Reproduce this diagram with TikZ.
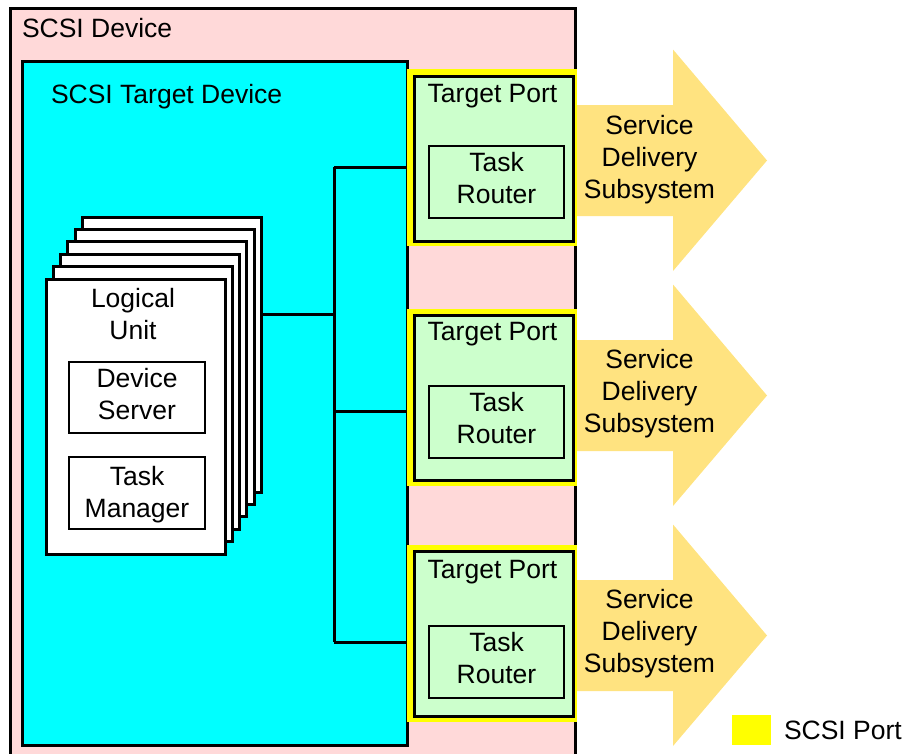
\documentclass[tikz,border=0pt]{standalone}
\usepackage{fontspec}
\setmainfont{Liberation Sans}
\definecolor{devpink}{RGB}{255,217,217}
\definecolor{tgtcyan}{RGB}{0,255,255}
\definecolor{portgreen}{RGB}{204,255,204}
\definecolor{portyellow}{RGB}{255,255,0}
\definecolor{arrowgold}{RGB}{255,227,128}
\begin{document}
\begin{tikzpicture}[x=1pt,y=-1pt,
  box/.style={draw=black, line width=3pt, rectangle, inner sep=0pt, outer sep=0pt},
  thinbox/.style={draw=black, line width=2pt, rectangle, inner sep=0pt, outer sep=0pt},
  txt/.style={font=\fontsize{26.5}{32}\selectfont, align=center, inner sep=0pt, outer sep=0pt},
  frame/.style={fill=portyellow, rectangle, inner sep=0pt, outer sep=0pt, minimum width=170pt, minimum height=177pt},
  portbox/.style={box, fill=portgreen, minimum width=159pt, minimum height=165pt},
  routerbox/.style={thinbox, minimum width=135pt, minimum height=72pt},
  page/.style={box, fill=white, minimum width=179pt, minimum height=275pt},
  bus/.style={draw=black, line width=3pt},
  sds/.style={fill=arrowgold}
]
\useasboundingbox (0,0) rectangle (907,753);
\clip (0,0) rectangle (907,753);

% SCSI Device
\node[box, fill=devpink, minimum width=565pt, minimum height=772pt] (dev) at (292.5,394) {};
\node[txt, anchor=base west] (devlabel) at (22,37) {SCSI Device};

% SCSI Target Device
\node[box, fill=tgtcyan, minimum width=385pt, minimum height=684pt] (tdev) at (214.5,403) {};
\node[txt, anchor=base west] (tdevlabel) at (51,103) {SCSI Target Device};

% Service delivery subsystem arrows
\foreach \c/\n in {160.5/1,395.5/2,635.5/3}{
  \fill[sds] (576,\c-55.5) -- (673,\c-55.5) -- (673,\c-111) -- (767,\c) -- (673,\c+110.5) -- (673,\c+55.5) -- (576,\c+55.5) -- cycle;
}
\node[txt] (sds1) at (649.5,159.5) {Service\\Delivery\\Subsystem};
\node[txt] (sds2) at (649.5,394) {Service\\Delivery\\Subsystem};
\node[txt] (sds3) at (649.5,634) {Service\\Delivery\\Subsystem};

% Target ports
\node[frame] (py1) at (492,157.5) {};
\node[portbox] (tp1) at (493.5,158.5) {};
\node[txt, anchor=base] (tpl1) at (492.5,102) {Target Port};
\node[routerbox] (tr1) at (496.5,182) {};
\node[txt] (trl1) at (496.5,178) {Task\\Router};

\node[frame] (py2) at (492,397.5) {};
\node[portbox] (tp2) at (493.5,398) {};
\node[txt, anchor=base] (tpl2) at (492.5,340) {Target Port};
\node[routerbox] (tr2) at (496.5,422) {};
\node[txt] (trl2) at (496.5,418) {Task\\Router};

\node[frame] (py3) at (492,633.5) {};
\node[portbox] (tp3) at (493.5,634) {};
\node[txt, anchor=base] (tpl3) at (492.5,578) {Target Port};
\node[routerbox] (tr3) at (496.5,662) {};
\node[txt] (trl3) at (496.5,658) {Task\\Router};

% Logical unit stack
\foreach \k in {5,4,3,2,1,0}{
  \node[page] (lu\k) at ({135.5+7.3*\k},{416.5-12.4*\k}) {};
}
\node[txt] (lulabel) at (133,314) {Logical\\Unit};
\node[thinbox, minimum width=136pt, minimum height=71pt] (ds) at (137,397.5) {};
\node[txt] (dsl) at (137,394.5) {Device\\Server};
\node[thinbox, minimum width=136pt, minimum height=72pt] (tm) at (137,493) {};
\node[txt] (tml) at (137,495) {Task\\Manager};

% Bus
\coordinate (b1) at (334,167);
\coordinate (b2) at (334,411);
\coordinate (b3) at (334,642);
\coordinate (bl) at (334,314);
\draw[bus] (b1) -- (b3);
\draw[bus] (b1) -- (b1 -| py1.west);
\draw[bus] (b2) -- (b2 -| py2.west);
\draw[bus] (b3) -- (b3 -| py3.west);
\draw[bus] (bl -| lu5.east) -- (bl);

% Legend
\node[fill=portyellow, minimum width=39pt, minimum height=30pt, inner sep=0pt] (legsq) at (751.5,730) {};
\node[txt, anchor=base west] (legtxt) at (784,739) {SCSI Port};
\end{tikzpicture}
\end{document}
